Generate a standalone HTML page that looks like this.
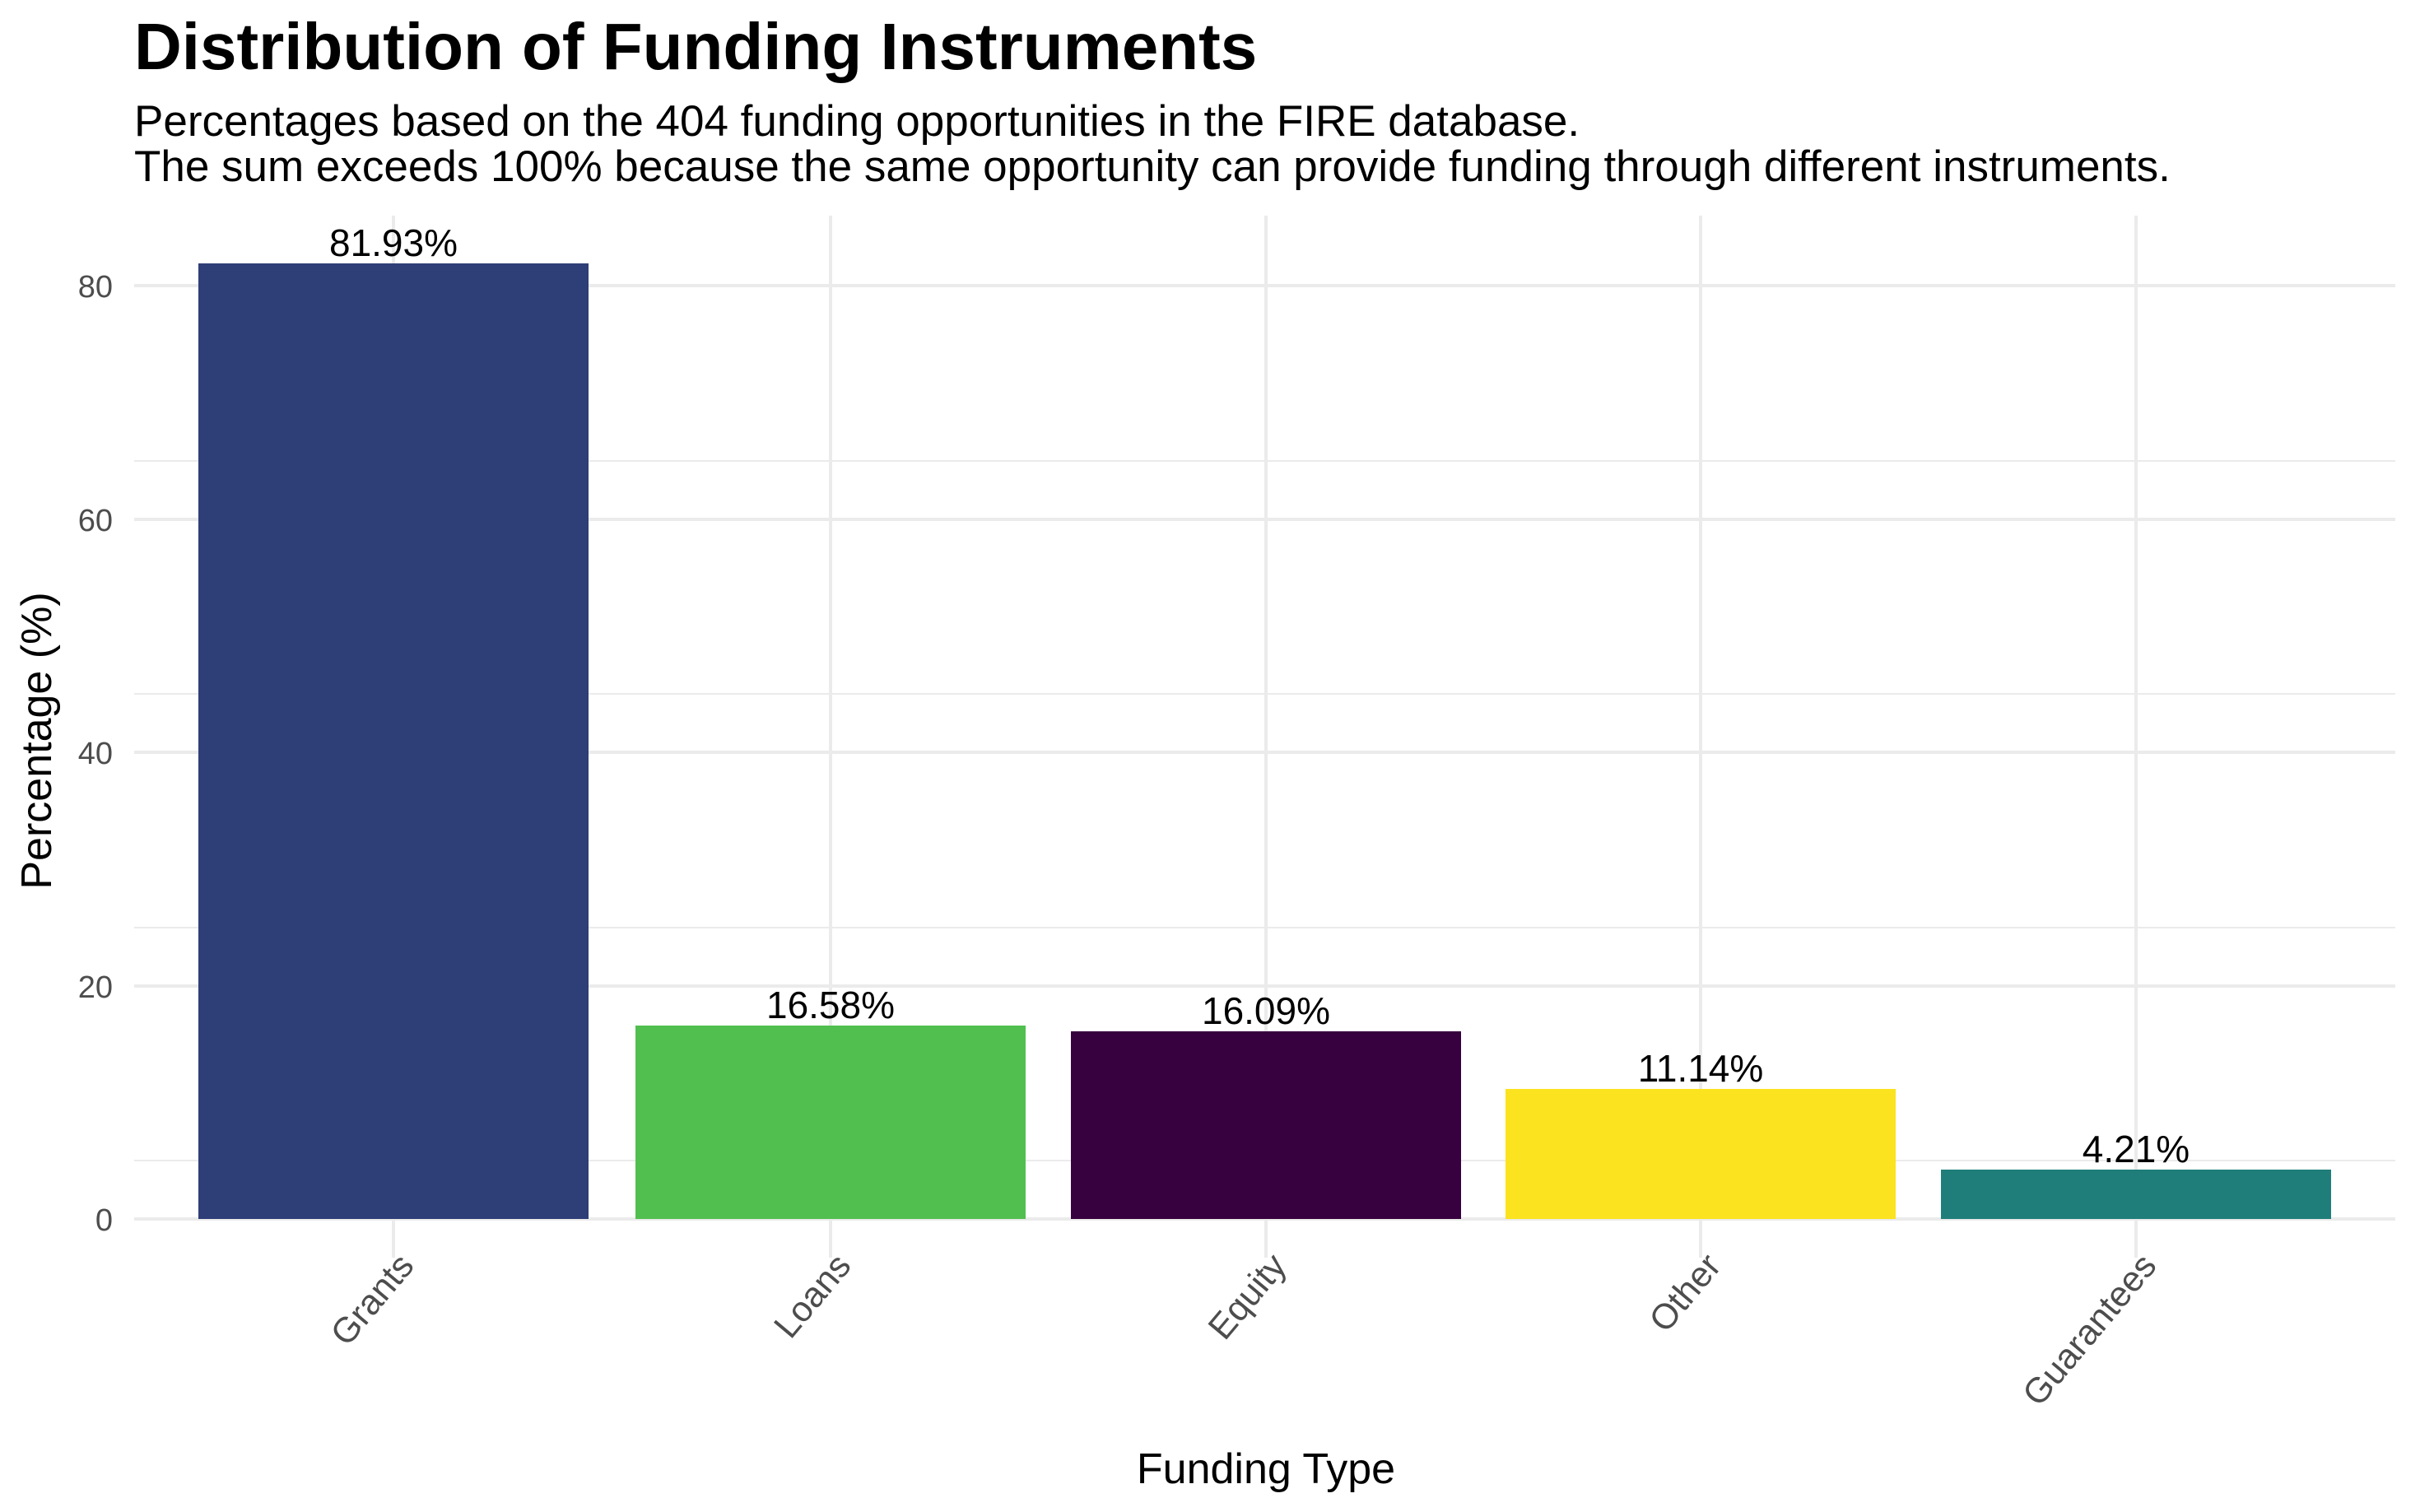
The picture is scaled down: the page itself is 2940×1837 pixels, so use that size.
<!DOCTYPE html>
<html><head><meta charset="utf-8"><style>
html,body{margin:0;padding:0;background:#fff;}
svg{display:block;}
text{font-family:"Liberation Sans",Arial,sans-serif;}
</style></head><body>
<svg width="2940" height="1837" viewBox="0 0 2940 1837" xmlns="http://www.w3.org/2000/svg">
<rect width="2940" height="1837" fill="#fff"/>
<text x="163" y="84" font-size="80" font-weight="bold" fill="#000">Distribution of Funding Instruments</text>
<text x="163" y="165" font-size="53" fill="#000">Percentages based on the 404 funding opportunities in the FIRE database.</text>
<text x="163" y="220" font-size="53" fill="#000">The sum exceeds 100% because the same opportunity can provide funding through different instruments.</text>
<g stroke="#ebebeb">
<line x1="163" x2="2910" y1="1410" y2="1410" stroke-width="2"/>
<line x1="163" x2="2910" y1="1127" y2="1127" stroke-width="2"/>
<line x1="163" x2="2910" y1="843" y2="843" stroke-width="2"/>
<line x1="163" x2="2910" y1="560" y2="560" stroke-width="2"/>
<line x1="163" x2="2910" y1="1481" y2="1481" stroke-width="4"/>
<line x1="163" x2="2910" y1="1198" y2="1198" stroke-width="4"/>
<line x1="163" x2="2910" y1="914" y2="914" stroke-width="4"/>
<line x1="163" x2="2910" y1="631" y2="631" stroke-width="4"/>
<line x1="163" x2="2910" y1="347" y2="347" stroke-width="4"/>
<line x1="478" x2="478" y1="262" y2="1528" stroke-width="4"/>
<line x1="1009" x2="1009" y1="262" y2="1528" stroke-width="4"/>
<line x1="1538" x2="1538" y1="262" y2="1528" stroke-width="4"/>
<line x1="2066" x2="2066" y1="262" y2="1528" stroke-width="4"/>
<line x1="2595" x2="2595" y1="262" y2="1528" stroke-width="4"/>
</g>
<rect x="241" y="320" width="474" height="1161" fill="#2e3e77"/>
<rect x="772" y="1246" width="474" height="235" fill="#51bf4f"/>
<rect x="1301" y="1253" width="474" height="228" fill="#36013e"/>
<rect x="1829" y="1323" width="474" height="158" fill="#fbe31f"/>
<rect x="2358" y="1421" width="474" height="60" fill="#1f7e7a"/>
<g font-size="46" fill="#000" text-anchor="middle">
<text x="478" y="311">81.93%</text>
<text x="1009" y="1237">16.58%</text>
<text x="1538" y="1244">16.09%</text>
<text x="2066" y="1314">11.14%</text>
<text x="2595" y="1412">4.21%</text>
</g>
<g font-size="38" fill="#4d4d4d" text-anchor="end">
<text x="137" y="1495">0</text>
<text x="137" y="1212">20</text>
<text x="137" y="928">40</text>
<text x="137" y="645">60</text>
<text x="137" y="361">80</text>
</g>
<g font-size="43" fill="#4d4d4d" text-anchor="end">
<text transform="translate(480,1518) rotate(-50)" dy="0.75em">Grants</text>
<text transform="translate(1011,1518) rotate(-50)" dy="0.75em">Loans</text>
<text transform="translate(1540,1518) rotate(-50)" dy="0.75em">Equity</text>
<text transform="translate(2068,1518) rotate(-50)" dy="0.75em">Other</text>
<text transform="translate(2597,1518) rotate(-50)" dy="0.75em">Guarantees</text>
</g>
<text x="1538" y="1802" font-size="52" fill="#000" text-anchor="middle">Funding Type</text>
<text transform="translate(62,900) rotate(-90)" font-size="52" fill="#000" text-anchor="middle">Percentage (%)</text>
</svg>
</body></html>
